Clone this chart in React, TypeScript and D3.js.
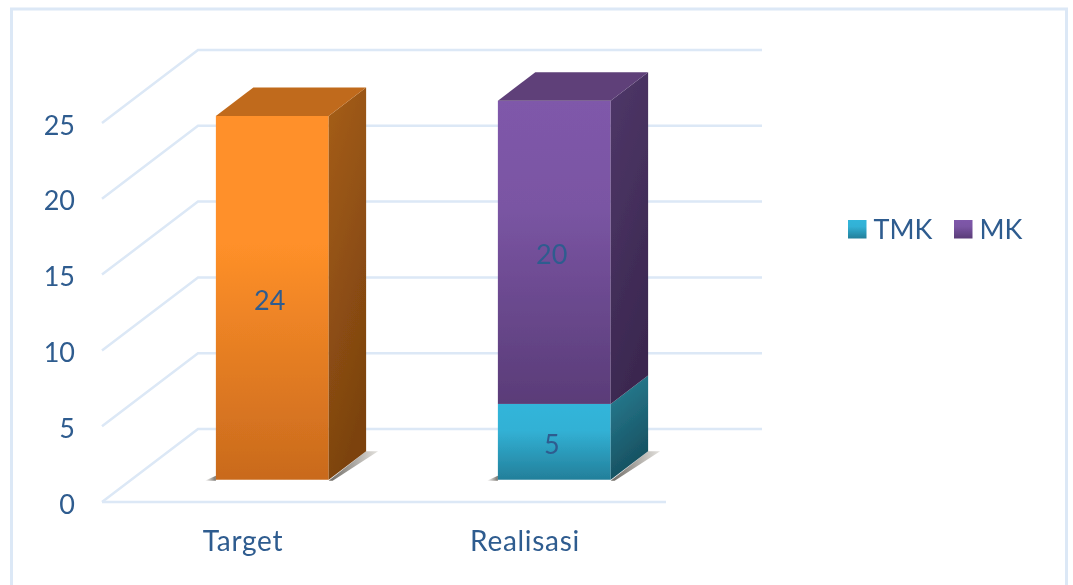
import { useEffect, useRef } from "react"
import * as d3 from "d3"

const categories = ["Target", "Realisasi"]
const yTicks = [0, 5, 10, 15, 20, 25]
const targetValues = [24, 0]
const tmkValues = [0, 5]
const mkValues = [0, 20]
const legendItems = ["TMK", "MK"]

const WIDTH = 1073
const HEIGHT = 585
const TEXT = "#2f5c8f"
const GRID = "#dce8f6"
const FONT = "Lato, 'Open Sans', sans-serif"

// floor offset of the back wall, from the front edge
const DEPTH_X = 96
const DEPTH_Y = 73

const palettes = {
  target: {
    front: ["#ff9029", "#ff9029", "#c96a1d"],
    side: ["#a65e18", "#7c430f"],
    top: "#c06a1b",
  },
  tmk: {
    front: ["#32b5da", "#32b1d5", "#237f9a"],
    side: ["#2a8297", "#164f5f"],
    top: "#237f9a",
  },
  mk: {
    front: ["#7f58aa", "#7a55a3", "#5a3c78"],
    side: ["#4f3769", "#3b2850"],
    top: "#5e4079",
  },
}

export default function App() {
  const svgRef = useRef<SVGSVGElement>(null)

  useEffect(() => {
    const svg = d3.select(svgRef.current)
    svg.selectAll("*").remove()

    const x = d3.scaleBand().domain(categories).range([102, 666])
    const y = d3.scaleLinear().domain([0, 25]).range([502, 123])

    // data position + depth (0 front, 1 back wall) to screen
    const px = (v: number, depth: number) => v + depth * DEPTH_X
    const py = (v: number, depth: number) => y(v) - depth * DEPTH_Y
    const poly = (pts: number[][]) => pts.map((p) => p.join(",")).join(" ")

    const defs = svg.append("defs")
    Object.entries(palettes).forEach(([key, p]) => {
      const front = defs
        .append("linearGradient")
        .attr("id", `front-${key}`)
        .attr("x1", 0)
        .attr("y1", 0)
        .attr("x2", 0)
        .attr("y2", 1)
      front.append("stop").attr("offset", "0%").attr("stop-color", p.front[0])
      front.append("stop").attr("offset", "35%").attr("stop-color", p.front[1])
      front.append("stop").attr("offset", "100%").attr("stop-color", p.front[2])

      const side = defs
        .append("linearGradient")
        .attr("id", `side-${key}`)
        .attr("x1", 0)
        .attr("y1", 0)
        .attr("x2", 0.3)
        .attr("y2", 1)
      side.append("stop").attr("offset", "0%").attr("stop-color", p.side[0])
      side.append("stop").attr("offset", "100%").attr("stop-color", p.side[1])
    })
    const shadow = defs.append("linearGradient").attr("id", "shadow")
    shadow.append("stop").attr("offset", "0%").attr("stop-color", "#6e6a64")
    shadow.append("stop").attr("offset", "100%").attr("stop-color", "#e4e2de")
    const shadowLeft = defs.append("linearGradient").attr("id", "shadow-left")
    shadowLeft.append("stop").attr("offset", "0%").attr("stop-color", "#ffffff")
    shadowLeft.append("stop").attr("offset", "100%").attr("stop-color", "#77736d")

    // the source picture is a slightly soft screenshot
    defs
      .append("filter")
      .attr("id", "soft")
      .attr("x", 0)
      .attr("y", 0)
      .attr("width", 1)
      .attr("height", 1)
      .append("feGaussianBlur")
      .attr("stdDeviation", 0.45)
    const root = svg.append("g").attr("filter", "url(#soft)")

    root
      .append("rect")
      .attr("width", WIDTH)
      .attr("height", HEIGHT)
      .attr("fill", "#fff")
    root
      .append("rect")
      .attr("x", 11.5)
      .attr("y", 9)
      .attr("width", 1055)
      .attr("height", 590)
      .attr("fill", "#fff")
      .attr("stroke", GRID)
      .attr("stroke-width", 3)

    // gridlines: along the side wall, then along the back wall
    const grid = root.append("g").attr("fill", "none").attr("stroke", GRID).attr("stroke-width", 2.5)
    yTicks.forEach((t) => {
      grid
        .append("polyline")
        .attr("points", poly([[102, py(t, 0)], [px(102, 1), py(t, 1)], [px(666, 1), py(t, 1)]]))
    })
    grid.append("line").attr("x1", 102).attr("x2", 666).attr("y1", y(0)).attr("y2", y(0))

    // axis labels
    const yAxis = root
      .append("g")
      .attr("transform", "translate(75,2.5)")
      .call(d3.axisLeft(y).tickValues(yTicks).tickSize(0).tickPadding(0))
    const xAxis = root
      .append("g")
      .attr("transform", "translate(0,531)")
      .call(d3.axisBottom(x).tickSize(0).tickPadding(0))
    yAxis.select(".domain").remove()
    xAxis.select(".domain").remove()
    yAxis
      .selectAll(".tick text")
      .attr("fill", TEXT)
      .style("font-family", FONT)
      .style("font-size", "27px")
    xAxis
      .selectAll(".tick text")
      .attr("fill", TEXT)
      .style("font-family", FONT)
      .style("font-size", "28px")
      .style("letter-spacing", "0.7px")

    // bars sit between 0.305 and 0.695 of the depth, 0.2 of the band wide each side
    const barW = x.bandwidth() * 0.4
    const d0 = 0.305
    const d1 = 0.695

    const drawBox = (cat: string, from: number, to: number, key: string, isTop: boolean) => {
      const left = x(cat)! + x.bandwidth() / 2 - barW / 2
      const right = left + barW
      const g = root.append("g")
      g.append("rect")
        .attr("x", px(left, d0))
        .attr("y", py(to, d0))
        .attr("width", barW)
        .attr("height", py(from, d0) - py(to, d0))
        .attr("fill", `url(#front-${key})`)
      g.append("polygon")
        .attr(
          "points",
          poly([
            [px(right, d0), py(to, d0)],
            [px(right, d1), py(to, d1)],
            [px(right, d1), py(from, d1)],
            [px(right, d0), py(from, d0)],
          ])
        )
        .attr("fill", `url(#side-${key})`)
      if (isTop) {
        g.append("polygon")
          .attr(
            "points",
            poly([
              [px(left, d0), py(to, d0)],
              [px(left, d1), py(to, d1)],
              [px(right, d1), py(to, d1)],
              [px(right, d0), py(to, d0)],
            ])
          )
          .attr("fill", palettes[key].top)
      }
    }

    const drawShadow = (cat: string) => {
      const left = x(cat)! + x.bandwidth() / 2 - barW / 2
      const right = left + barW
      root
        .append("polygon")
        .attr(
          "points",
          poly([
            [px(right, d0), py(0, d0) + 1],
            [px(right, d1), py(0, d1)],
            [px(right, d1) + 12, py(0, d1)],
            [px(right, d0) + 4, py(0, d0) + 1],
          ])
        )
        .attr("fill", "url(#shadow)")
      root
        .append("polygon")
        .attr(
          "points",
          poly([
            [px(left, d0) - 11, py(0, d0) + 1],
            [px(left, d0), py(0, d0) - 4],
            [px(left, d0), py(0, d0) + 1],
          ])
        )
        .attr("fill", "url(#shadow-left)")
    }

    categories.forEach((cat, i) => {
      drawShadow(cat)
      const hasStack = tmkValues[i] + mkValues[i] > 0
      if (targetValues[i] > 0) drawBox(cat, 0, targetValues[i], "target", true)
      if (hasStack) {
        drawBox(cat, 0, tmkValues[i], "tmk", false)
        drawBox(cat, tmkValues[i], tmkValues[i] + mkValues[i], "mk", true)
      }
    })

    // value labels
    const label = (cat: string, from: number, value: number) => {
      root
        .append("text")
        .attr("x", px(x(cat)! + x.bandwidth() / 2, d0) - 2.5)
        .attr("y", py(from + value / 2, d0) + 2)
        .attr("dy", "0.36em")
        .attr("text-anchor", "middle")
        .attr("fill", TEXT)
        .style("font-family", FONT)
        .style("font-size", "27px")
        .text(value)
    }
    categories.forEach((cat, i) => {
      if (targetValues[i] > 0) label(cat, 0, targetValues[i])
      if (tmkValues[i] > 0) label(cat, 0, tmkValues[i])
      if (mkValues[i] > 0) label(cat, tmkValues[i], mkValues[i])
    })

    // legend
    const legendX = d3.scaleOrdinal<string, number>().domain(legendItems).range([848, 954])
    legendItems.forEach((name) => {
      const key = name.toLowerCase()
      root
        .append("rect")
        .attr("x", legendX(name))
        .attr("y", 220)
        .attr("width", 18.5)
        .attr("height", 18.5)
        .attr("fill", `url(#front-${key})`)
      root
        .append("text")
        .attr("x", legendX(name) + 25.5)
        .attr("y", 229)
        .attr("dy", "0.36em")
        .attr("fill", TEXT)
        .style("font-family", FONT)
        .style("font-size", "27px")
        .text(name)
    })
  }, [])

  return (
    <svg
      ref={svgRef}
      width={WIDTH}
      height={HEIGHT}
      style={{ position: "absolute", left: 0, top: 0, background: "#fff" }}
    ></svg>
  )
}
